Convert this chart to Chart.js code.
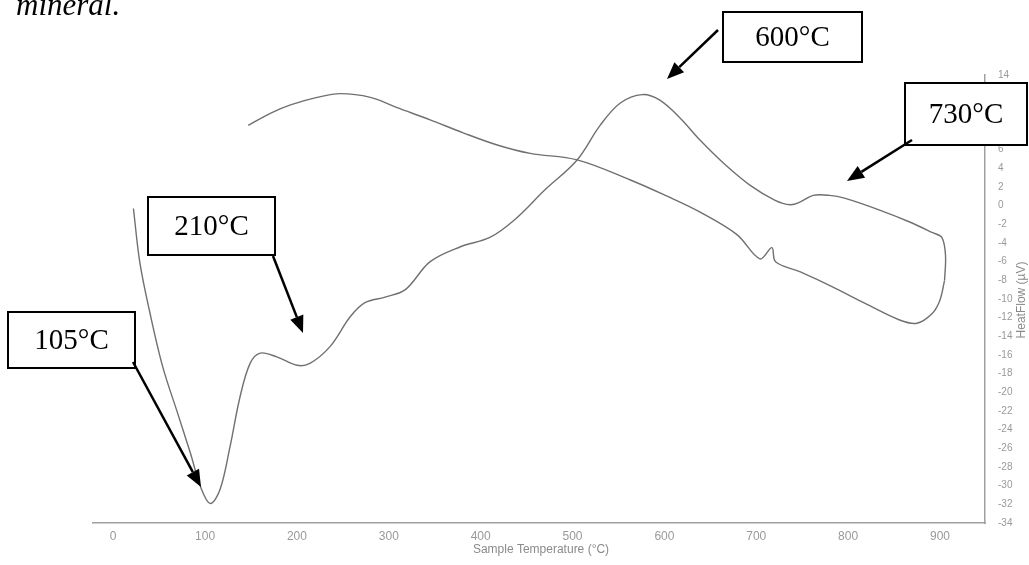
<!DOCTYPE html>
<html>
<head>
<meta charset="utf-8">
<script src="https://cdn.jsdelivr.net/npm/chart.js@4"></script>
<style>
  html, body { margin: 0; padding: 0; background: #fff; }
  #wrap { width: 1029px; height: 565px; position: relative; }
</style>
</head>
<body>
<div id="wrap"><canvas id="dta" width="1029" height="565"></canvas></div>
<script>
// traza DTA: calentamiento (izq -> der) y enfriamiento (der -> izq)
const heatT = [22, 29, 40, 54, 70, 84, 95, 105.5, 116, 127, 138, 149, 160, 178, 200, 214, 236, 258,
  274, 296, 318, 345, 378, 410, 437, 470, 505, 530, 552, 576, 595, 617, 639, 666, 693, 720, 737,
  748, 762, 780, 796, 835, 867, 892, 902, 906, 905];
const heatV = [-0.3, -6.1, -11.5, -17.3, -22.2, -26.5, -30.1, -31.9, -30.5, -25.9, -20.5, -16.9, -15.8, -16.2, -17.1, -16.9, -15.1, -11.9,
  -10.4, -9.8, -9.0, -6.0, -4.4, -3.4, -1.5, 1.7, 4.9, 8.6, 11.0, 11.9, 11.3, 9.4, 7.0, 4.4, 2.2, 0.6, 0.1,
  0.4, 1.1, 1.1, 0.8, -0.5, -1.75, -2.9, -3.4, -5.3, -8.0];

const coolT = [905, 900, 892, 875, 856, 819, 783, 748, 721, 717, 704, 679, 639, 601, 563, 505, 454, 418,
  381, 345, 309, 280, 247, 222, 193, 171, 147];
const coolV = [-8.0, -10.1, -11.5, -12.6, -12.25, -10.5, -8.7, -7.1, -6.0, -4.5, -5.7, -3.1, -0.7, 1.1, 2.75, 4.9, 5.6, 6.5,
  7.8, 9.2, 10.5, 11.6, 12.0, 11.6, 10.8, 9.9, 8.6];

const xTicks = [0, 100, 200, 300, 400, 500, 600, 700, 800, 900];
const xTitle = "Sample Temperature (°C)";
const yTitle = "HeatFlow (µV)";

// recuadros con flecha (coordenadas de pantalla)
const callouts = [
  { text: "105°C", box: [8, 312, 127, 56], from: [133, 362], to: [201, 487] },
  { text: "210°C", box: [148, 197, 127, 58], from: [273, 256], to: [303, 333] },
  { text: "600°C", box: [723, 12, 139, 50], from: [718, 30], to: [667, 79] },
  { text: "730°C", box: [905, 83, 122, 62], from: [912, 140], to: [847, 181] }
];

function toPoints(xs, ys) {
  return xs.map((x, i) => ({ x: x, y: ys[i] }));
}

function flecha(ctx, a, b) {
  const ang = Math.atan2(b[1] - a[1], b[0] - a[0]);
  const largo = 17, ancho = 7;
  const bx = b[0] - largo * Math.cos(ang);
  const by = b[1] - largo * Math.sin(ang);
  ctx.beginPath();
  ctx.moveTo(a[0], a[1]);
  ctx.lineTo(bx, by);
  ctx.lineWidth = 2.5;
  ctx.strokeStyle = "#000";
  ctx.stroke();
  ctx.beginPath();
  ctx.moveTo(b[0], b[1]);
  ctx.lineTo(bx + ancho * Math.sin(ang), by - ancho * Math.cos(ang));
  ctx.lineTo(bx - ancho * Math.sin(ang), by + ancho * Math.cos(ang));
  ctx.closePath();
  ctx.fillStyle = "#000";
  ctx.fill();
}

const extras = {
  id: "extras",
  afterDraw(chart) {
    const ctx = chart.ctx;
    ctx.save();

    // texto de la página (cortado arriba)
    ctx.fillStyle = "#000";
    ctx.font = "italic 31px 'Liberation Serif'";
    ctx.textAlign = "left";
    ctx.textBaseline = "alphabetic";
    ctx.fillText("mineral.", 16, 15);

    // títulos de los ejes
    ctx.fillStyle = "#8a8a8a";
    ctx.font = "12px 'Liberation Sans'";
    ctx.textAlign = "center";
    ctx.textBaseline = "middle";
    ctx.fillText(xTitle, 541, 550);
    ctx.translate(1022, 300);
    ctx.rotate(-Math.PI / 2);
    ctx.fillText(yTitle, 0, 0);
    ctx.setTransform(1, 0, 0, 1, 0, 0);

    callouts.forEach((c) => {
      const [x, y, w, h] = c.box;
      ctx.fillStyle = "#fff";
      ctx.fillRect(x, y, w, h);
      ctx.lineWidth = 2;
      ctx.strokeStyle = "#000";
      ctx.strokeRect(x, y, w, h);
      ctx.fillStyle = "#000";
      ctx.font = "29px 'Liberation Serif'";
      ctx.textAlign = "center";
      ctx.textBaseline = "middle";
      ctx.fillText(c.text, x + w / 2, y + h / 2 + 1);
      flecha(ctx, c.from, c.to);
    });

    ctx.restore();
  }
};

const ctx = document.getElementById("dta").getContext("2d");

const lineStyle = {
  showLine: true,
  borderColor: "#707070",
  borderWidth: 1.4,
  pointRadius: 0,
  tension: 0.35,
  fill: false
};

new Chart(ctx, {
  type: "scatter",
  data: {
    datasets: [
      Object.assign({ label: "Calentamiento", data: toPoints(heatT, heatV) }, lineStyle),
      Object.assign({ label: "Enfriamiento", data: toPoints(coolT, coolV) }, lineStyle)
    ]
  },
  options: {
    responsive: false,
    animation: false,
    layout: { padding: { left: 93, top: 75, right: 0, bottom: 0 } },
    plugins: {
      legend: { display: false },
      tooltip: { enabled: false }
    },
    scales: {
      x: {
        type: "linear",
        position: "bottom",
        min: -22,
        max: 949,
        grid: { display: false },
        border: { color: "#a0a0a0", width: 1.5 },
        afterBuildTicks: (scale) => {
          scale.ticks = xTicks.map((v) => ({ value: v }));
        },
        ticks: {
          color: "#999",
          font: { family: "Liberation Sans", size: 12 },
          padding: -2,
          maxRotation: 0
        },
        afterFit: (scale) => { scale.height = 42; }
      },
      y: {
        type: "linear",
        position: "right",
        min: -34,
        max: 14,
        grid: { display: false },
        border: { color: "#a0a0a0", width: 1.5 },
        ticks: {
          stepSize: 2,
          color: "#999",
          font: { family: "Liberation Sans", size: 10 },
          padding: 5
        },
        afterFit: (scale) => { scale.width = 44; }
      }
    }
  },
  plugins: [extras]
});
</script>
</body>
</html>
